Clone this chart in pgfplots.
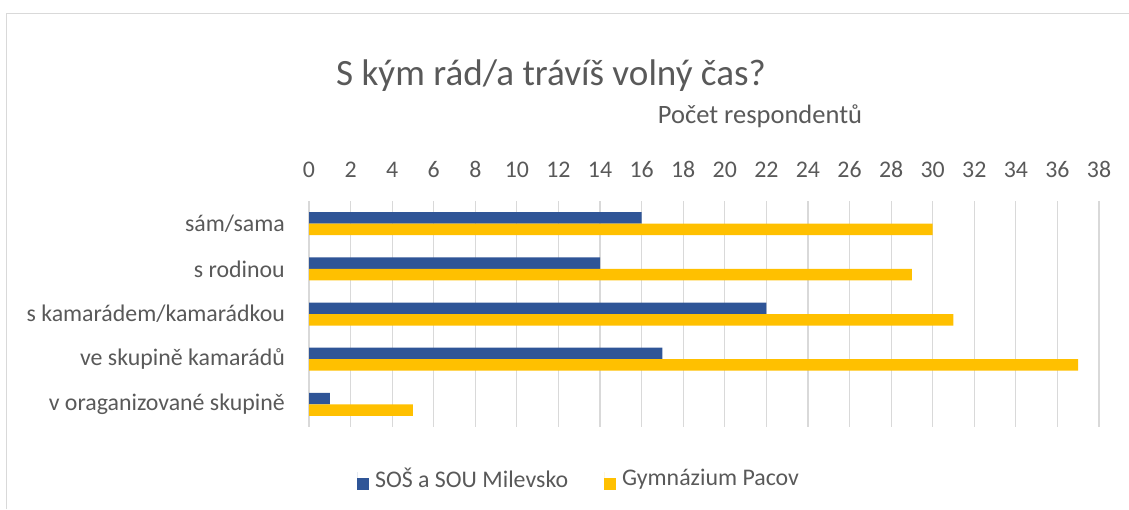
\documentclass[border=0pt]{standalone}
\usepackage{fontspec}
\setmainfont{Carlito}
\usepackage{pgfplots}
\pgfplotsset{compat=1.18}
\definecolor{txtgray}{HTML}{595959}
\definecolor{gridgray}{HTML}{D9D9D9}
\definecolor{sosblue}{HTML}{2F5597}
\definecolor{gymyellow}{HTML}{FFC000}
\begin{document}
\begin{tikzpicture}[x=1pt,y=1pt]
\path[use as bounding box] (0,0) rectangle (1129,-509);
\draw[gridgray, line width=1.2pt] (6.5,-509) -- (6.5,-13.5) -- (1129,-13.5);
\node[anchor=base, text=txtgray, font=\fontsize{37.1pt}{44pt}\selectfont] at (551,-85) {S kým rád/a trávíš volný čas?};
\node[anchor=base, text=txtgray, font=\fontsize{26.5pt}{32pt}\selectfont] at (760,-123) {Počet respondentů};
\begin{axis}[
  at={(309pt,-427pt)}, anchor=south west,
  scale only axis, width=790pt, height=226pt,
  xbar, bar width=11.5pt,
  every axis plot post/.append style={legend image code/.code={\path (0pt,6pt) -- (0pt,0pt); \fill[##1] (0pt,0pt) rectangle (12pt,-12pt);}},
  xmin=0, xmax=38, ymin=0.5, ymax=5.5, y dir=reverse,
  xtick={0,2,...,38}, ytick={1,2,3,4,5},
  yticklabels={sám/sama, s rodinou, s kamarádem/kamarádkou, ve skupině kamarádů, v oraganizované skupině\hspace{5pt}},
  xticklabel pos=upper,
  axis line style={draw=none}, major tick length=0pt,
  xmajorgrids, grid style={gridgray, line width=1.2pt},
  tick label style={text=txtgray, font=\fontsize{23.85pt}{28pt}\selectfont},
  /pgf/number format/assume math mode=true,
  xticklabel style={anchor=base, yshift=24pt},
  yticklabel style={anchor=east, inner sep=0pt, xshift=-24pt},
  legend columns=2,
  legend style={at={(0.3405,-0.230)}, anchor=center, draw=none, fill=none,
    font=\fontsize{23.85pt}{28pt}\selectfont, text=txtgray,
    nodes={inner sep=0pt},
    /tikz/column 1/.style={column sep=6pt},
    /tikz/column 2/.style={column sep=36pt},
    /tikz/column 3/.style={column sep=6pt}},
]
\addplot[fill=sosblue, draw=none, bar shift=5.75pt]
  coordinates {(16,1) (14,2) (22,3) (17,4) (1,5)};
\addplot[fill=gymyellow, draw=none, bar shift=-5.75pt]
  coordinates {(30,1) (29,2) (31,3) (37,4) (5,5)};
\legend{SOŠ a SOU Milevsko, Gymnázium Pacov}
\end{axis}
\end{tikzpicture}
\end{document}
